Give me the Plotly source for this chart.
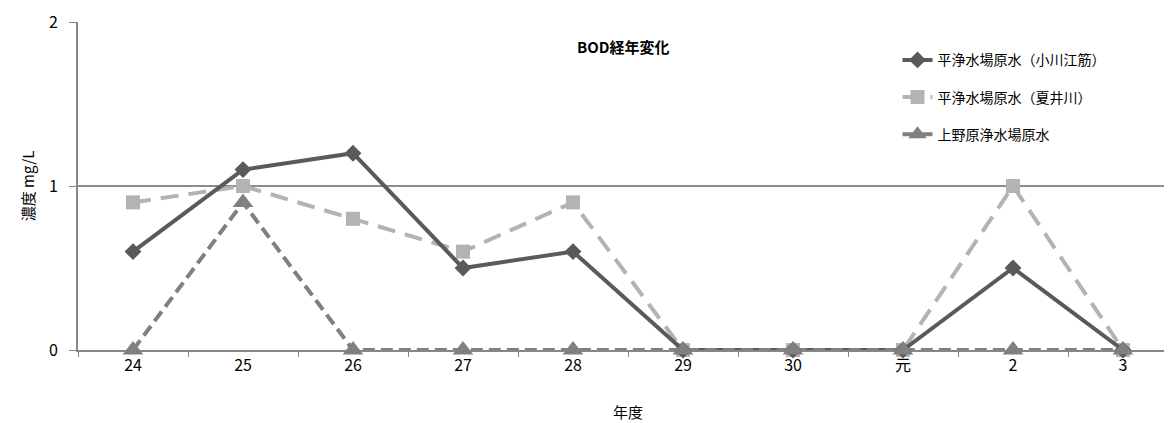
import plotly.graph_objects as go

years = ["24", "25", "26", "27", "28", "29", "30", "元", "2", "3"]
ogawa = [0.6, 1.1, 1.2, 0.5, 0.6, 0, 0, 0, 0.5, 0]
natsui = [0.9, 1.0, 0.8, 0.6, 0.9, 0, 0, 0, 1.0, 0]
uenohara = [0, 0.9, 0, 0, 0, 0, 0, 0, 0, 0]
names = ["平浄水場原水（小川江筋）", "平浄水場原水（夏井川）", "上野原浄水場原水"]

FONT = "Noto Sans CJK JP"

fig = go.Figure()
fig.add_trace(go.Scatter(x=years, y=natsui, name=names[1], mode="lines+markers",
                         line=dict(color="#b3b3b3", width=4, dash="18px,10px"),
                         marker=dict(symbol="square", size=14, color="#b3b3b3"),
                         cliponaxis=False, legendgroup="b", legendrank=2))
fig.add_trace(go.Scatter(x=years, y=ogawa, name=names[0], mode="lines+markers",
                         line=dict(color="#5a5a5a", width=4),
                         marker=dict(symbol="diamond", size=13, color="#5a5a5a"),
                         cliponaxis=False, legendgroup="a", legendrank=1))
fig.add_trace(go.Scatter(x=years, y=uenohara, name=names[2], mode="lines+markers",
                         line=dict(color="#808080", width=4, dash="12px,6px"),
                         marker=dict(symbol="triangle-up", size=18, color="#808080"),
                         cliponaxis=False, legendgroup="c", legendrank=3))

fig.update_layout(
    width=1172, height=423,
    margin=dict(l=70, r=2, t=14, b=81),
    paper_bgcolor="white", plot_bgcolor="white",
    font=dict(family=FONT, size=15, color="#000000"),
    showlegend=True,
    legend=dict(x=0.745, y=0.932, xanchor="left", yanchor="top",
                font=dict(size=14, color="#000000"),
                tracegroupgap=16, bgcolor="rgba(0,0,0,0)",
                traceorder="grouped"),
    xaxis=dict(type="category", range=[-0.5, 9.5], tickson="boundaries",
               ticks="outside", ticklen=5, tickcolor="#878787",
               showline=True, linecolor="#878787", linewidth=2,
               showgrid=False, zeroline=False, automargin=False, layer="below traces",
               tickfont=dict(size=16, family=FONT),
               title=dict(text="年度", font=dict(size=15), standoff=32)),
    yaxis=dict(range=[0, 2], tickvals=[0, 1, 2], ticks="outside", ticklen=7,
               tickcolor="#878787", showline=True, linecolor="#878787", linewidth=2,
               showgrid=True, gridcolor="#8c8c8c", gridwidth=1.5, zeroline=False,
               automargin=False, layer="below traces",
               tickfont=dict(size=16, family=FONT), ticklabelstandoff=8,
               title=dict(text="濃度 mg/L", font=dict(size=15), standoff=11)),
    annotations=[dict(text="<b>BOD経年変化</b>", x=0.495, y=0.924, xref="paper", yref="paper",
                      showarrow=False, font=dict(size=15, family=FONT, color="#000000"),
                      xanchor="center", yanchor="middle")],
)

fig.write_html("out.html")
